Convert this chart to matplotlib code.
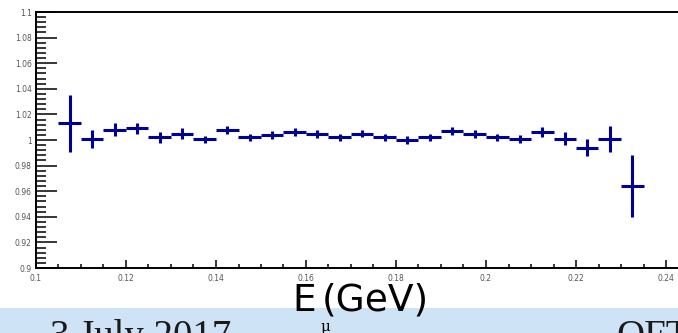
import numpy as np
import matplotlib
matplotlib.use("Agg")
import matplotlib.pyplot as plt
from matplotlib.ticker import FixedLocator, MultipleLocator
from matplotlib.patches import Rectangle

# ratio per muon-energy bin (26 bins of 5 MeV from 0.105 to 0.235 GeV)
e_lo, e_hi, n_bins = 0.105, 0.235, 26
ratio = [1.013, 1.001, 1.008, 1.009, 1.002, 1.005, 1.0005, 1.008, 1.002, 1.004,
         1.0065, 1.0046, 1.002, 1.005, 1.002, 1.000, 1.002, 1.007, 1.0046, 1.002,
         1.001, 1.0065, 1.001, 0.994, 1.001, 0.964]
ratio_err = [0.022, 0.007, 0.005, 0.004, 0.004, 0.004, 0.003, 0.003, 0.003, 0.003,
             0.003, 0.003, 0.003, 0.003, 0.003, 0.003, 0.003, 0.003, 0.003, 0.003,
             0.003, 0.004, 0.005, 0.0065, 0.010, 0.024]

y_ticks = [0.9, 0.92, 0.94, 0.96, 0.98, 1.0, 1.02, 1.04, 1.06, 1.08, 1.1]
y_tick_labels = ["0.9", "0.92", "0.94", "0.96", "0.98", "1", "1.02", "1.04", "1.06", "1.08", "1.1"]
x_ticks = [0.1, 0.12, 0.14, 0.16, 0.18, 0.2, 0.22, 0.24]
x_tick_labels = ["0.1", "0.12", "0.14", "0.16", "0.18", "0.2", "0.22", "0.24"]

edges = np.linspace(e_lo, e_hi, n_bins + 1)
centers = 0.5 * (edges[:-1] + edges[1:])
half_w = 0.5 * np.diff(edges)

W, H = 678, 333
fig = plt.figure(figsize=(W / 100, H / 100), dpi=100)
fig.patch.set_facecolor("white")

# slide footer strip
fig.patches.append(Rectangle((0, 0), 1, 25 / H, transform=fig.transFigure,
                             facecolor="#cfe3f7", edgecolor="none", zorder=0))
fig.text(50 / W, -14 / H, "3 July 2017", family="Liberation Serif", fontsize=28,
         color="#1a1a1a", ha="left", va="baseline")
fig.text(616 / W, -14 / H, "OFT", family="Liberation Serif", fontsize=28,
         color="#1a1a1a", ha="left", va="baseline")

# frame runs past the right edge of the canvas
ax = fig.add_axes([36 / W, 65 / H, 675 / W, 256 / H])
ax.errorbar(centers, ratio, xerr=half_w, yerr=ratio_err, fmt="none",
            ecolor="#000099", elinewidth=2.2, capsize=0, zorder=3)

ax.set_xlim(0.1, 0.25)
ax.set_ylim(0.9, 1.1)
for s in ("left", "top", "bottom"):
    ax.spines[s].set_linewidth(1.4)
ax.spines["right"].set_visible(False)

ax.yaxis.set_major_locator(FixedLocator(y_ticks))
ax.set_yticklabels(y_tick_labels)
ax.yaxis.set_minor_locator(MultipleLocator(0.004))
ax.xaxis.set_major_locator(FixedLocator(x_ticks))
ax.set_xticklabels(x_tick_labels)
ax.xaxis.set_minor_locator(MultipleLocator(0.005))

ax.tick_params(axis="y", which="major", direction="in", length=15, width=1.1,
               labelsize=5.5, labelcolor="#555555", pad=3)
ax.tick_params(axis="y", which="minor", direction="in", length=7, width=1.1)
ax.tick_params(axis="x", which="major", direction="in", length=5.8, width=1.1,
               labelsize=5.5, labelcolor="#555555", pad=4)
ax.tick_params(axis="x", which="minor", direction="in", length=2.9, width=1.1)

# axis title E_mu (GeV), subscript set low as in the ROOT canvas
fig.text(292 / W, (H - 311) / H, "E", family="DejaVu Sans", fontsize=27,
         color="black", ha="left", va="baseline")
fig.text(322 / W, (H - 311) / H, "(GeV)", family="DejaVu Sans", fontsize=27,
         color="black", ha="left", va="baseline")
fig.text(320 / W, (H - 331) / H, "\u03bc", family="DejaVu Serif", fontsize=11,
         color="black", ha="left", va="baseline")

fig.savefig("out.png", dpi=100)
